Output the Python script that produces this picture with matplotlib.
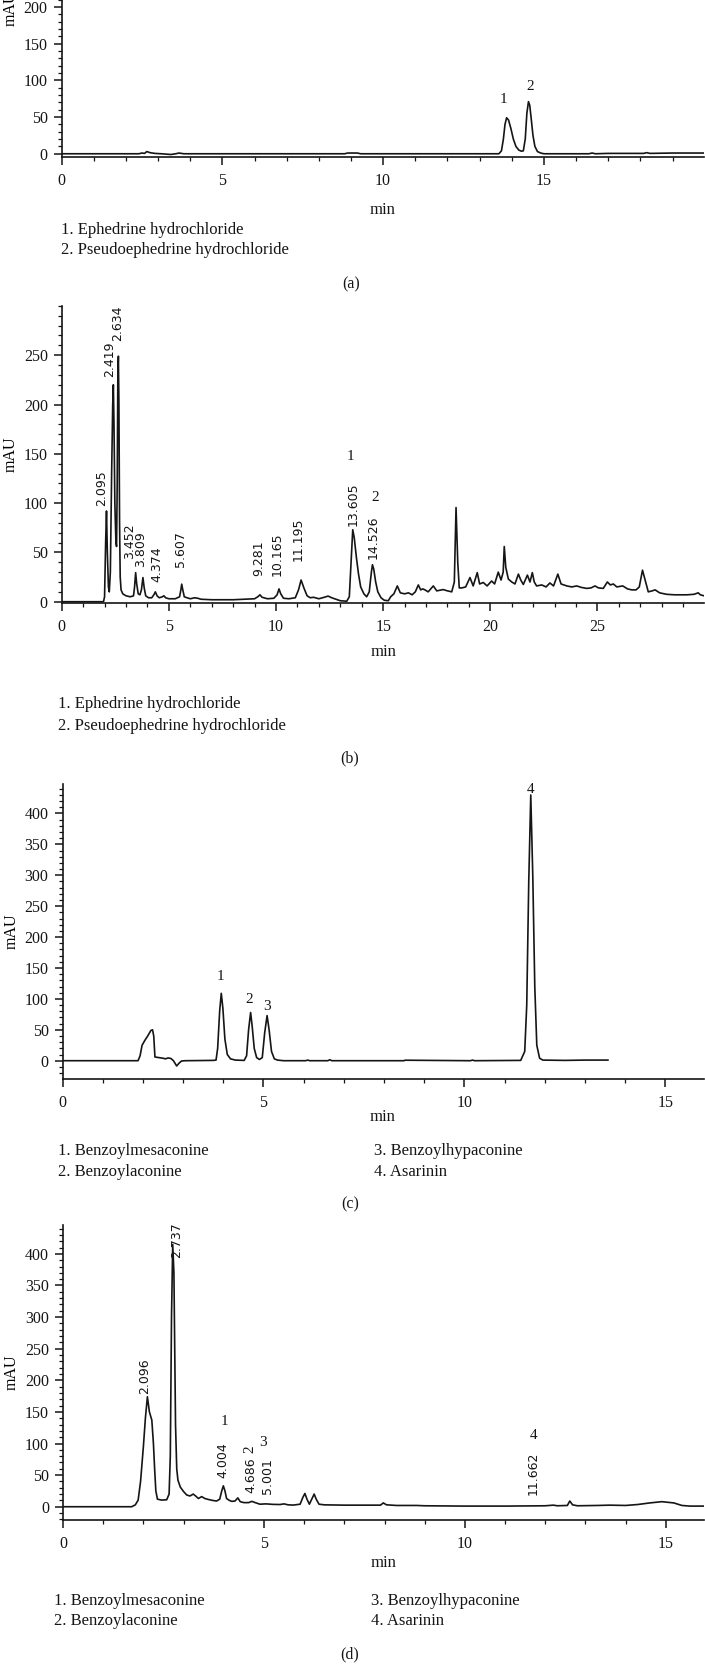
import matplotlib
matplotlib.use('Agg')
import matplotlib.pyplot as plt
from matplotlib.ticker import MultipleLocator

W, H = 705, 1676

# ---------------- data ----------------
# (a) standards, ephedrine
a_t = [0, 2.4, 2.5, 2.58, 2.65, 2.75, 2.9, 3.1, 3.4, 3.55, 3.65, 3.8, 8.8, 8.9, 9.2, 9.3,
       13.6, 13.68, 13.74, 13.79, 13.84, 13.9, 13.97, 14.05, 14.13, 14.22, 14.3, 14.36,
       14.42, 14.47, 14.52, 14.56, 14.6, 14.66, 14.72, 14.8, 14.9, 15.0, 16.4, 16.5, 16.6,
       17.0, 18.1, 18.2, 18.3, 19.0, 19.97]
a_y = [0, 0, 1, 0.5, 3, 1.5, 0.5, 0, -1, 0, 1, 0, 0, 1, 1, 0,
       0, 4, 20, 40, 49, 46, 35, 20, 10, 5, 3.5, 4,
       20, 55, 71, 66, 50, 25, 10, 3, 1, 0, 0, 1, 0,
       0.5, 0.5, 1.5, 0.5, 1, 1]

# (b) sample, ephedrine
b_t = [0, 1.95, 2.0, 2.05, 2.09, 2.13, 2.18, 2.22, 2.27, 2.33, 2.38, 2.41, 2.44, 2.48, 2.53,
       2.56, 2.59, 2.62, 2.645, 2.67, 2.7, 2.73, 2.77, 2.85, 3.0, 3.2, 3.35, 3.4, 3.45, 3.5,
       3.57, 3.65, 3.72, 3.79, 3.85, 3.92, 4.05, 4.2, 4.3, 4.37, 4.45, 4.55, 4.7, 4.77, 4.85,
       5.0, 5.3, 5.5, 5.56, 5.6, 5.65, 5.72, 5.85, 6.0, 6.2, 6.35, 6.5, 7.0, 7.5, 8.0, 8.5,
       9.0, 9.15, 9.25, 9.35, 9.6, 9.9, 10.05, 10.14, 10.22, 10.35, 10.6, 10.9, 11.05, 11.17,
       11.3, 11.45, 11.6, 11.75, 12.0, 12.25, 12.43, 12.6, 12.8, 13.0, 13.3, 13.42, 13.5,
       13.58, 13.65, 13.75, 13.85, 13.95, 14.1, 14.23, 14.35, 14.45, 14.5, 14.56, 14.65,
       14.75, 14.9, 15.05, 15.24, 15.35, 15.5, 15.66, 15.8, 16.0, 16.18, 16.35, 16.5, 16.64,
       16.75, 16.85, 16.95, 17.1, 17.34, 17.5, 17.8, 18.0, 18.2, 18.32, 18.4, 18.48, 18.55,
       18.67, 18.85, 19.05, 19.2, 19.39, 19.5, 19.67, 19.85, 20.06, 20.2, 20.37, 20.5, 20.6,
       20.65, 20.72, 20.84, 21.0, 21.15, 21.31, 21.42, 21.54, 21.73, 21.85, 21.96, 22.05,
       22.16, 22.4, 22.6, 22.78, 22.95, 23.15, 23.3, 23.57, 23.8, 24.03, 24.25, 24.5, 24.7,
       24.88, 25.05, 25.27, 25.46, 25.6, 25.74, 25.9, 26.18, 26.4, 26.6, 26.8, 26.95, 27.1,
       27.25, 27.37, 27.55, 27.69, 27.9, 28.23, 28.6, 29.17, 29.5, 29.7, 29.8, 29.97]
b_y = [0, 0, 5, 60, 92, 50, 15, 10, 30, 130, 200, 220, 180, 100, 60,
       56, 120, 230, 249, 200, 80, 25, 12, 8, 6, 5, 6, 15, 29.5, 18,
       8, 7, 12, 24.5, 14, 6, 4, 4, 7, 10, 6, 4, 5, 6, 4,
       3, 3, 5, 12, 17.8, 12, 5, 4, 3, 4, 3.5, 2.5, 2, 2, 2, 2.5,
       3, 5, 7, 4.5, 3, 3.5, 7, 13, 8, 3.5, 3, 4, 12, 22,
       14, 6, 4, 4.5, 3, 4.5, 5.7, 4, 2.5, 1, 0.5, 5, 40,
       73, 65, 45, 28, 15, 8, 5, 10, 30, 37.5, 33, 20,
       10, 4, 1.5, 1, 5, 8, 16, 9, 8, 9, 7, 10, 17,
       12, 13, 12, 10, 16, 11, 12.3, 11, 10, 20, 95.5, 40, 14,
       14, 15, 24.5, 16, 29.5, 18, 19.5, 16, 21, 18, 30, 22, 30,
       56, 35, 23, 20, 18, 28, 22, 17.5, 27, 20, 29.5, 20,
       16, 17, 15, 19, 16, 28, 18, 16, 15, 16, 14.5, 13.5, 14,
       16, 14, 13.5, 20, 17, 18, 15, 16, 13, 12, 12, 15, 32,
       20, 10, 11, 12, 9, 7.5, 7, 7, 7.5, 9, 7, 6]

# (c) standards, aconitine alkaloids + asarinin
c_t = [0, 1.88, 1.93, 1.98, 2.05, 2.12, 2.2, 2.24, 2.27, 2.3, 2.4, 2.5, 2.56, 2.63, 2.7,
       2.76, 2.84, 2.9, 2.96, 3.05, 3.75, 3.82, 3.86, 3.91, 3.95, 3.99, 4.04, 4.1, 4.18,
       4.3, 4.52, 4.58, 4.63, 4.68, 4.72, 4.77, 4.83, 4.9, 4.97, 5.03, 5.09, 5.14, 5.2,
       5.27, 5.35, 5.5, 6.05, 6.1, 6.15, 6.6, 6.65, 6.7, 8.5, 8.52, 10.15, 10.2, 10.25,
       11.4, 11.5, 11.55, 11.6, 11.65, 11.7, 11.75, 11.8, 11.87, 11.95, 12.5, 13.0, 13.57]
c_y = [0, 0, 8, 25, 33, 40, 49, 50, 40, 6, 5, 4, 3, 4.5, 3.5,
       0, -8.5, -4, -0.5, 0, 0.5, 1, 20, 80, 109, 85, 35, 10, 3,
       1, 0.5, 8, 50, 78, 55, 20, 5, 2, 5, 45, 73, 50, 15,
       3, 1, 0, 0, 1, 0, 0, 1.5, 0, 0, 0.8, 0, 1, 0,
       0.5, 15, 90, 290, 430, 300, 120, 25, 4, 1, 0.5, 1, 1]

# (d) sample, aconitine alkaloids + asarinin
d_t = [0, 1.71, 1.8, 1.87, 1.93, 2.0, 2.05, 2.1, 2.15, 2.21, 2.25, 2.28, 2.31, 2.35, 2.45,
       2.58, 2.64, 2.67, 2.7, 2.73, 2.76, 2.78, 2.8, 2.83, 2.86, 2.92, 3.0, 3.08, 3.16,
       3.24, 3.3, 3.37, 3.45, 3.53, 3.61, 3.72, 3.82, 3.9, 3.95, 3.99, 4.03, 4.07, 4.14,
       4.2, 4.28, 4.35, 4.41, 4.5, 4.62, 4.7, 4.76, 4.9, 5.05, 5.23, 5.4, 5.5, 5.6, 5.73,
       5.9, 5.97, 6.02, 6.07, 6.13, 6.19, 6.25, 6.3, 6.37, 6.5, 7.0, 7.5, 7.9, 7.97, 8.05,
       8.3, 8.8, 9.0, 10.0, 11.0, 12.0, 12.2, 12.3, 12.55, 12.61, 12.68, 12.8, 13.3, 13.6,
       14.0, 14.3, 14.6, 14.9, 15.2, 15.4, 15.6, 15.95]
d_y = [0, 0, 3, 10.5, 40, 95, 140, 174, 150, 137, 100, 60, 25, 12, 10.5,
       11, 20, 80, 300, 415, 370, 250, 130, 60, 42, 31, 24, 18.5, 17,
       20, 17, 13, 16, 13, 11.6, 10, 9, 12, 25, 33, 25, 13, 10,
       8.5, 9, 14, 8, 6.5, 6.5, 8.5, 7, 4, 4.5, 3.7, 3.5, 4.5, 3, 2.6,
       4, 15, 21, 12, 4, 12, 20, 12, 4, 3, 2.5, 2.5, 2.5, 6, 3,
       2, 2, 1.5, 1, 1, 1.5, 2.5, 1.5, 2, 9, 3, 1.5, 2, 2.5,
       2, 3.5, 6, 8, 6, 2, 1, 1]

eph_names = ['1. Ephedrine hydrochloride', '2. Pseudoephedrine hydrochloride']
aco_names = ['1. Benzoylmesaconine', '2. Benzoylaconine',
             '3. Benzoylhypaconine', '4. Asarinin']

# retention time labels (text) of the integrated peaks
b_rt = ['2.095', '2.419', '2.634', '3.452', '3.809', '4.374', '5.607',
        '9.281', '10.165', '11.195', '13.605', '14.526']
d_rt = ['2.096', '2.737', '4.004', '4.686', '5.001', '11.662']

# where the labels sit (x in min, y = bottom of the text in mAU)
b_lab_x = [1.87, 2.23, 2.6, 3.17, 3.68, 4.43, 5.52, 9.18, 10.04, 11.05, 13.61, 14.54]
b_lab_y = [97, 228, 264, 43, 35, 20, 35, 26, 26, 41, 77, 43]
d_lab_x = [2.04, 2.83, 3.99, 4.67, 5.09, 11.7]
d_lab_y = [179, 393, 45, 21, 20, 18.5]

plt.rcParams['font.family'] = ['Liberation Serif', 'DejaVu Serif']
INK = '#151515'


def px(x, y):
    # pixel position (from the top left) -> figure fraction
    return x / W, 1 - y / H


def frame(ax, xmax, ylo, yhi, xt, yt):
    ax.set_xlim(0, xmax)
    ax.set_ylim(ylo, yhi)
    ax.spines['top'].set_visible(False)
    ax.spines['right'].set_visible(False)
    for s in ['left', 'bottom']:
        ax.spines[s].set_linewidth(1.2)
        ax.spines[s].set_color(INK)
    ax.set_xticks(xt)
    ax.set_yticks(yt)
    ax.xaxis.set_minor_locator(MultipleLocator(1))
    ax.yaxis.set_minor_locator(MultipleLocator(10))
    ax.tick_params(which='major', length=6, width=1.1, colors=INK, labelsize=11.5)
    ax.tick_params(which='minor', length=3.2, width=0.9, colors=INK)
    ax.tick_params(axis='x', which='major', pad=5.5)
    ax.tick_params(axis='y', which='major', pad=4)
    ax.set_ylabel('mAU', fontsize=11.5, va='center')
    ax.yaxis.set_label_coords(-0.08, 0.5)
    ax.patch.set_alpha(0)


def rt_labels(ax, names, xs, ys):
    for s, x, y in zip(names, xs, ys):
        ax.text(x, y, s, rotation=90, ha='center', va='bottom',
                family='DejaVu Sans', fontsize=9, color=INK)


def num(ax, x, y, s, rot=0):
    ax.text(x, y, s, ha='center', va='center', fontsize=11, rotation=rot, color=INK)


fig = plt.figure(figsize=(W / 100, H / 100), dpi=100)

# ---------------- (a) ----------------
# the top of this panel is cut off by the figure edge, as in the original
ax = fig.add_axes([61.6 / W, 1 - 156.7 / H, (703.7 - 61.6) / W, (156.7 + 139.8) / H])
frame(ax, 19.97, -4, 400, [0, 5, 10, 15], range(0, 201, 50))
ax.plot(a_t, a_y, color=INK, lw=1.2)
num(ax, 13.75, 73.6, '1')
num(ax, 14.57, 91, '2')

# ---------------- (b) ----------------
ax = fig.add_axes([61.7 / W, 1 - 602.7 / H, (704 - 61.7) / W, (602.7 - 305.9) / H])
frame(ax, 29.97, -1, 300, [0, 5, 10, 15, 20, 25], range(0, 251, 50))
ax.plot(b_t, b_y, color=INK, lw=1.2)
rt_labels(ax, b_rt, b_lab_x, b_lab_y)
num(ax, 13.49, 147, '1')
num(ax, 14.62, 105.6, '2')

# ---------------- (c) ----------------
ax = fig.add_axes([62.5 / W, 1 - 1079 / H, (704 - 62.5) / W, (1079 - 784) / H])
frame(ax, 15.96, -29.6, 447.7, [0, 5, 10, 15], range(0, 401, 50))
ax.plot(c_t, c_y, color=INK, lw=1.2)
num(ax, 3.92, 137, '1')
num(ax, 4.65, 99, '2')
num(ax, 5.08, 87, '3')
num(ax, 11.65, 439, '4')

# ---------------- (d) ----------------
ax = fig.add_axes([63 / W, 1 - 1520 / H, (704 - 63) / W, (1520 - 1225) / H])
frame(ax, 15.95, -21, 445.7, [0, 5, 10, 15], range(0, 401, 50))
ax.plot(d_t, d_y, color=INK, lw=1.2)
rt_labels(ax, d_rt, d_lab_x, d_lab_y)
num(ax, 4.01, 134.5, '1')
num(ax, 4.64, 91, '2', rot=90)
num(ax, 4.98, 101, '3')
num(ax, 11.7, 113, '4')

# axis titles, compound lists and panel letters
for x, y in [(383, 210), (383.5, 651.7), (383, 1117), (383.5, 1563.3)]:
    fig.text(*px(x, y), 'min', ha='center', va='center', fontsize=12, color=INK)

for x, ys in [(60.7, (230, 250)), (57.6, (704, 726))]:
    for s, y in zip(eph_names, ys):
        fig.text(*px(x, y), s, ha='left', va='center', fontsize=12, color=INK)

for x1, x2, y1, y2 in [(57.5, 374, 1150.7, 1171.7), (54, 371, 1601, 1620.7)]:
    fig.text(*px(x1, y1), aco_names[0], ha='left', va='center', fontsize=12, color=INK)
    fig.text(*px(x1, y2), aco_names[1], ha='left', va='center', fontsize=12, color=INK)
    fig.text(*px(x2, y1), aco_names[2], ha='left', va='center', fontsize=12, color=INK)
    fig.text(*px(x2, y2), aco_names[3], ha='left', va='center', fontsize=12, color=INK)

for s, x, y in [('(a)', 350.7, 284), ('(b)', 350, 758), ('(c)', 350, 1204), ('(d)', 349.4, 1654)]:
    fig.text(*px(x, y), s, ha='center', va='center', fontsize=11.5, color=INK)

fig.savefig('out.png', dpi=100)
